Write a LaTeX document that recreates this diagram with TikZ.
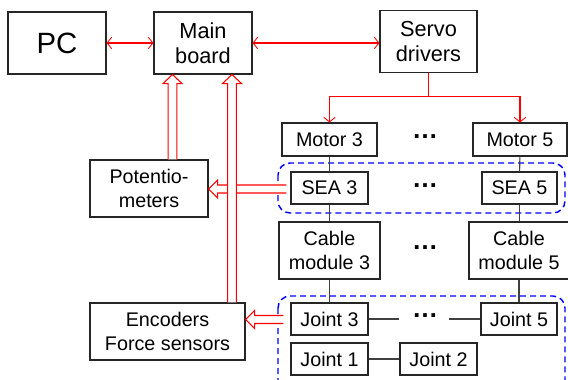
\documentclass[tikz,border=0pt]{standalone}
\usepackage{fontspec}
\setmainfont{Liberation Sans}
\usetikzlibrary{arrows.meta,calc}
\def\u{0.75pt}
\newcommand\hollowV[2]{%
 \draw[hollow] ($(#1)+(-4.3,0)$) -- ($(#2)+(-4.3,9)$) -- ($(#2)+(-9.5,9)$) -- (#2) -- ($(#2)+(9.5,9)$) -- ($(#2)+(4.3,9)$) -- ($(#1)+(4.3,0)$);}
\newcommand\hollowH[2]{%
 \draw[hollow] ($(#1)+(0,-4)$) -- ($(#2)+(9,-4)$) -- ($(#2)+(9,-9)$) -- (#2) -- ($(#2)+(9,9)$) -- ($(#2)+(9,4)$) -- ($(#1)+(0,4)$);}
\tikzset{
  box/.style={draw=black!85, line width=0.8pt, fill=white, inner sep=0pt, align=center,
    font=\fontsize{14.8}{17.6}\selectfont},
  bigbox/.style={box, font=\fontsize{16.3}{18.8}\selectfont},
  dotsnode/.style={inner sep=0pt, font=\fontsize{19.5}{20}\selectfont\bfseries},
  link/.style={draw=black!75, line width=0.8pt},
  vtip/.tip={Straight Barb[length=3.4pt,width=8.5pt,line width=0.65pt]},
  redarr/.style={draw=red, line width=0.8pt, arrows={-vtip}},
  redboth/.style={draw=red, line width=0.8pt, arrows={vtip-vtip}},
  hollow/.style={draw=red, line width=0.8pt, fill=white, line join=miter},
  group/.style={draw=blue, line width=1.1pt, dash pattern=on 4.5pt off 3pt, rounded corners=9pt}
}
\begin{document}
\begin{tikzpicture}[x=0.75pt,y=-0.75pt]
\clip (0,0) rectangle (568,379);
\fill[white] (0,0) rectangle (568,379);
% groups
\draw[group] (278,163) rectangle (565,213);
\draw[group] (278,296) rectangle (565,392);
% nodes
\node[box, minimum width=98*\u, minimum height=62*\u, font=\fontsize{22}{26}\selectfont] (pc) at (57,43) {PC};
\node[bigbox, minimum width=98*\u, minimum height=62*\u] (mb) at (203,43) {Main\\board};
\node[bigbox, minimum width=97*\u, minimum height=62*\u] (sd) at (428.5,41.5) {Servo\\drivers};
\node[box, minimum width=95*\u, minimum height=33*\u] (m3) at (329.5,139.5) {Motor 3};
\node[box, minimum width=94*\u, minimum height=33*\u] (m5) at (520,139.5) {Motor 5};
\node[box, minimum width=77*\u, minimum height=32*\u] (s3) at (329.5,188) {SEA 3};
\node[box, minimum width=75*\u, minimum height=32*\u] (s5) at (519.5,188) {SEA 5};
\node[box, minimum width=101*\u, minimum height=57*\u] (c3) at (329.5,250.5) {Cable\\module 3};
\node[box, minimum width=100*\u, minimum height=57*\u] (c5) at (519,250.5) {Cable\\module 5};
\node[box, minimum width=77*\u, minimum height=32*\u] (j3) at (329.5,319) {Joint 3};
\node[box, minimum width=76*\u, minimum height=32*\u] (j5) at (519,319) {Joint 5};
\node[box, minimum width=77*\u, minimum height=32*\u] (j1) at (329.5,359) {Joint 1};
\node[box, minimum width=77*\u, minimum height=32*\u] (j2) at (438.5,359) {Joint 2};
\node[box, minimum width=118*\u, minimum height=57*\u] (pot) at (149,188.5) {Potentio-\\meters};
\node[box, minimum width=155*\u, minimum height=57*\u] (enc) at (167.5,331.5) {Encoders\\Force sensors};
\node[dotsnode] (d1) at (425,137) {…};
\node[dotsnode] (d2) at (425,186) {…};
\node[dotsnode] (d3) at (425,248) {…};
\node[dotsnode] (d4) at (425,316) {…};
% black links
\draw[link] (m3) -- (s3);
\draw[link] (m5) -- (s5);
\draw[link] (s3) -- (c3);
\draw[link] (s5) -- (c5.north -| s5);
\draw[link] (c3) -- (j3);
\draw[link] (c5.south -| j5) -- (j5);
\draw[link] (j1) -- (j2);
\coordinate (la) at (399,319);
\coordinate (lb) at (449,319);
\draw[link] (j3) -- (la);
\draw[link] (lb) -- (j5);
% red arrows
\draw[redboth] (pc) -- (mb);
\draw[redboth] (mb.east) -- (mb.east -| sd.west);
\draw[redarr] (sd.south) -- ++(0,23) -| (m3.north);
\draw[redarr] (sd.south) -- ++(0,23) -| (m5.north);
% hollow arrows
\coordinate (potsrc) at ($(s3.west)+(-4,1)$);
\coordinate (pottip) at ($(pot.east)+(0,0.5)$);
\hollowH{potsrc}{pottip}
\coordinate (encsrc) at ($(j3.west)+(-7,0.5)$);
\coordinate (enctip) at (enc.east |- encsrc);
\hollowH{encsrc}{enctip}
\coordinate (pvb) at (172.5,0 |- pot.north);
\coordinate (pvt) at (172.5,0 |- mb.south);
\hollowV{pvb}{pvt}
\coordinate (evb) at (232,0 |- enc.north);
\coordinate (evt) at (232,0 |- mb.south);
\hollowV{evb}{evt}
\end{tikzpicture}
\end{document}
